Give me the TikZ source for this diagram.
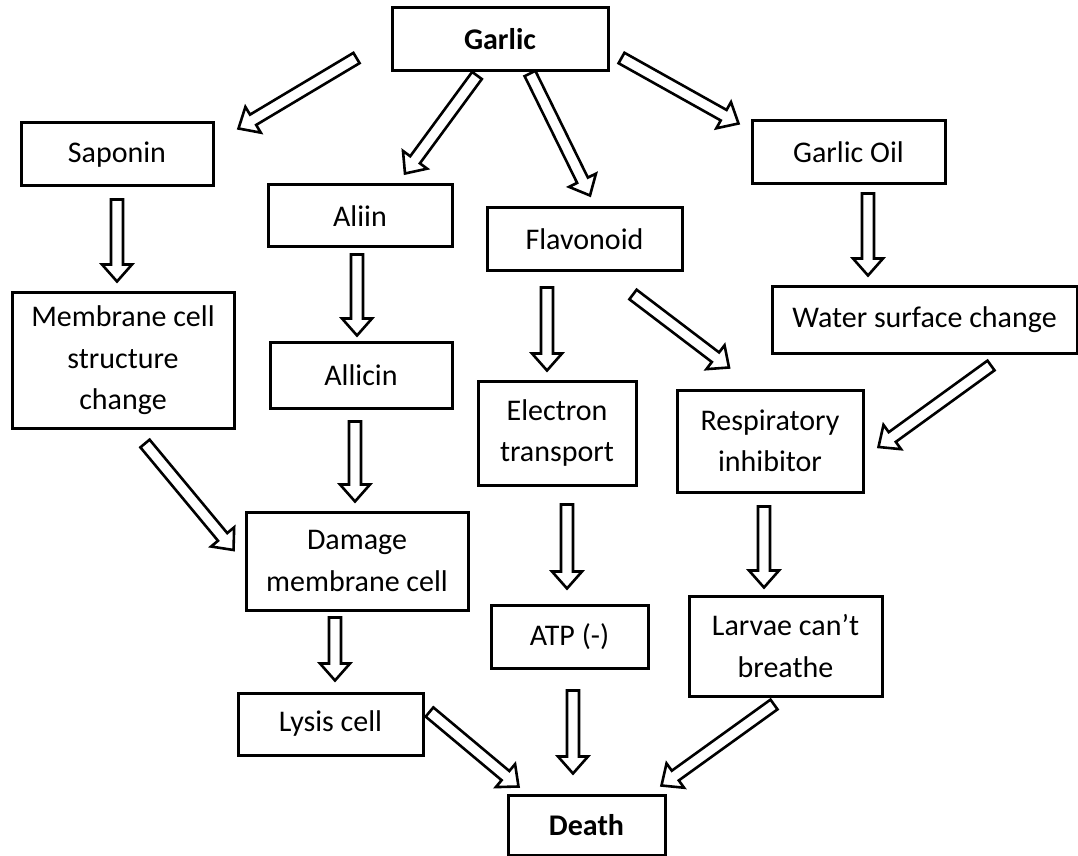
\documentclass[tikz,border=0pt]{standalone}
\usepackage{fontspec}
\setmainfont{Carlito}
\usetikzlibrary{calc}

\tikzset{
  box/.style={draw, line width=1.5pt, align=center, inner sep=2pt, font=\fontsize{15}{20.75}\selectfont},
  bbox/.style={box, font=\fontsize{15}{20.75}\selectfont\bfseries},
  arrowline/.style={draw, line width=1.3pt, line join=miter, fill=white},
}
\newcommand{\shaftw}{3pt}
\newcommand{\headw}{7.5pt}
\newcommand{\headlen}{8.5pt}
% hollow block arrow from #1 to #2
\newcommand{\blockarrow}[2]{%
  \path #1 coordinate (ba-s) #2 coordinate (ba-e);
  \path ($(ba-e)!\headlen!(ba-s)$) coordinate (ba-h);
  \draw[arrowline] ($(ba-s)!\shaftw!90:(ba-e)$) -- ($(ba-h)!\shaftw!90:(ba-e)$)
    -- ($(ba-h)!\headw!90:(ba-e)$) -- (ba-e) -- ($(ba-h)!\headw!-90:(ba-e)$)
    -- ($(ba-h)!\shaftw!-90:(ba-e)$) -- ($(ba-s)!\shaftw!-90:(ba-e)$) -- cycle;
}

\begin{document}
\begin{tikzpicture}[x=0.5pt, y=-0.5pt]
  \useasboundingbox (0,0) rectangle (1078,856);

  % Nodes
  \node[bbox, minimum width=108pt, minimum height=31.5pt] (garlic) at (500,39.5) {Garlic};
  \node[box, minimum width=96pt, minimum height=31.5pt] (saponin) at (117,154.5) {Saponin};
  \node[box, minimum width=92pt, minimum height=31pt] (aliin) at (360,216) {Aliin};
  \node[box, minimum width=97.5pt, minimum height=31.5pt] (flavonoid) at (584.5,239.5) {Flavonoid};
  \node[box, minimum width=96.5pt, minimum height=31.5pt] (garlicoil) at (848.5,152.5) {Garlic Oil};
  \node[box, minimum width=111pt, minimum height=67.5pt] (membrane) at (123,360.5) {Membrane cell\\structure\\change};
  \node[box, minimum width=91pt, minimum height=33pt] (allicin) at (361,375) {Allicin};
  \node[box, minimum width=79pt, minimum height=52pt] (electron) at (557,433) {Electron\\transport};
  \node[box, minimum width=152.5pt, minimum height=33pt] (water) at (924.5,320) {Water surface change};
  \node[box, minimum width=93pt, minimum height=51pt] (resp) at (770,441) {Respiratory\\inhibitor};
  \node[box, minimum width=111pt, minimum height=49pt] (damage) at (357,561) {Damage\\membrane cell};
  \node[box, minimum width=78.5pt, minimum height=31.5pt] (atp) at (569.5,636.5) {ATP (-)};
  \node[box, minimum width=96.5pt, minimum height=50pt] (larvae) at (785.5,646) {Larvae can’t\\breathe};
  \node[box, minimum width=92.5pt, minimum height=31pt] (lysis) at (330.5,724) {Lysis cell};
  \node[bbox, minimum width=78.5pt, minimum height=30pt] (death) at (586.5,825) {Death};

  % Arrows
  \blockarrow{($(garlic.west)+(-34,18.5)$)}{($(saponin.north east)+(24,7)$)}
  \blockarrow{($(garlic.south)+(-23,3)$)}{($(aliin.north)+(45,-10)$)}
  \blockarrow{($(garlic.south)+(30,1)$)}{($(flavonoid.north)+(5.5,-11)$)}
  \blockarrow{($(garlic.east)+(12,18.5)$)}{($(garlicoil.north west)+(-12,4)$)}
  \blockarrow{($(saponin.south)+(0,12)$)}{($(membrane.north)+(-6,-10)$)}
  \blockarrow{($(aliin.south)+(-3,6)$)}{($(allicin.north)+(-4,-5)$)}
  \blockarrow{($(flavonoid.south)+(-37.5,15)$)}{($(electron.north)+(-10,-9)$)}
  \blockarrow{($(flavonoid.south)+(48.5,22)$)}{($(resp.north)+(-41,-21)$)}
  \blockarrow{($(garlicoil.south)+(19.5,8)$)}{($(water.north)+(-56.5,-10)$)}
  \blockarrow{($(membrane.south)+(22,14)$)}{($(damage.west)+(-11,-11)$)}
  \blockarrow{($(allicin.south)+(-6,12)$)}{($(damage.north)+(-2,-9)$)}
  \blockarrow{($(water.south)+(66.5,11)$)}{($(resp.east)+(14,6)$)}
  \blockarrow{($(electron.south)+(10,18)$)}{($(atp.north)+(-2.5,-15)$)}
  \blockarrow{($(resp.south)+(-6,13)$)}{($(larvae.north)+(-21.5,-7)$)}
  \blockarrow{($(damage.south)+(-22,6)$)}{($(lysis.north)+(4.5,-11)$)}
  \blockarrow{($(lysis.east)+(5,-12)$)}{($(death.north west)+(12,-7)$)}
  \blockarrow{($(atp.south)+(3.5,21)$)}{($(death.north)+(-13.5,-20)$)}
  \blockarrow{($(larvae.south)+(-11.5,7)$)}{($(death.north east)+(-5,-8)$)}
\end{tikzpicture}
\end{document}
